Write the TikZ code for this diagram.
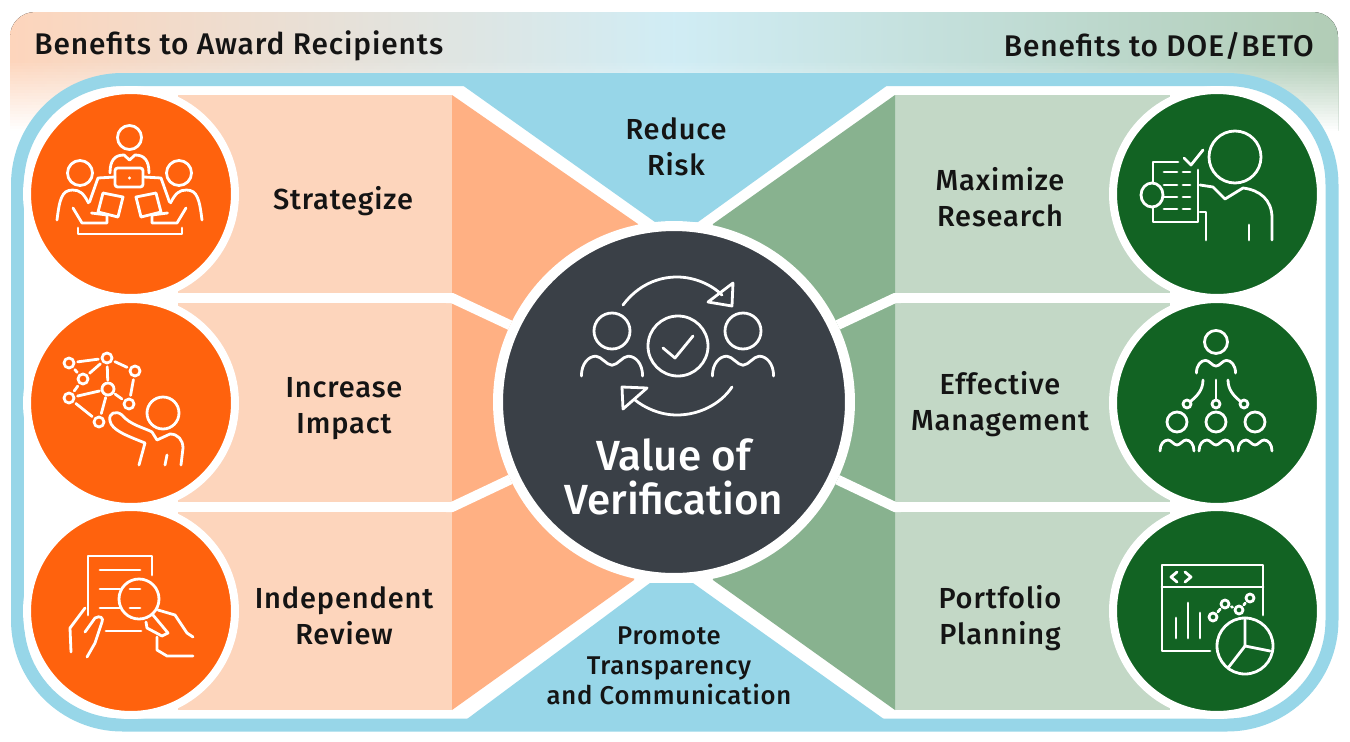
\documentclass[tikz,border=0pt]{standalone}
\usepackage{fontspec}
\setmainfont{Fira Sans}[BoldFont={Fira Sans Medium}, LetterSpace=3]
\newfontfamily\corefont{Fira Sans Medium}

\definecolor{awardorange}{HTML}{FF620D}
\definecolor{awardpeach}{HTML}{FDD5BC}
\definecolor{awardmid}{HTML}{FFB083}
\definecolor{framesky}{HTML}{97D6E8}
\definecolor{coreslate}{HTML}{3A4047}
\definecolor{doegreen}{HTML}{126323}
\definecolor{doemist}{HTML}{C3D8C6}
\definecolor{doemid}{HTML}{88B28F}
\definecolor{inkblack}{HTML}{141414}

\tikzset{
    iconline/.style={draw=white, line width=0.056cm, line cap=round, line join=round},
    rowlabel/.style={font=\fontsize{16.5}{20.4}\selectfont\bfseries, text=inkblack, align=center, inner sep=0pt},
    iconbase/.style={circle, draw=white, line width=0.16cm, minimum size=4.16cm, inner sep=0pt},
    headshade/.style={left color=awardpeach!#1!white, right color=doemist!90!doegreen!#1!white, middle color=framesky!45!white!#1!white},
    bust/.pic={
        \draw[iconline] (0,#1) circle (10);
        \draw[iconline] (-17,0) .. controls (-17,-7) and (-13,-11) .. (-9,-11) .. controls (-6,-11) and (-3,-6) .. (0,-6) .. controls (3,-6) and (6,-11) .. (9,-11) .. controls (13,-11) and (17,-7) .. (17,0);
    }
}

\begin{document}
\begin{tikzpicture}[x=0.02cm,y=-0.02cm]
    \useasboundingbox (0,0) rectangle (1350,741);

    % header band and frame
    \fill[headshade=100] (10,130) [rounded corners=0.5cm] -- (10,12) -- (1338,12) [sharp corners] -- (1338,130) -- cycle;
    \foreach \yy in {60,63,...,129} {
        \pgfmathtruncatemacro{\pct}{100*(130-\yy)/70}
        \fill[headshade=\pct] (10,\yy) rectangle (1338,130);
    }
    \draw[framesky, line width=0.26cm, fill=white, rounded corners=2.1cm] (17.5,79.5) rectangle (1332,725);
    \fill[framesky] (458,82) -- (892,82) -- (698,222) -- (655,222) -- cycle;
    \fill[framesky] (463,722) -- (888,722) -- (693,583) -- (650,583) -- cycle;

    % panels
    \foreach \ytop/\ybot in {95/293,303/502,512/710} {
        \fill[awardpeach] (178,\ytop) rectangle (452,\ybot);
        \fill[doemist] (895,\ytop) rectangle (1170,\ybot);
    }
    \fill[awardmid] (452,95) -- (638,224) -- (674,402) -- (634,580) -- (452,710) -- cycle;
    \fill[doemid] (895,95) -- (713,224) -- (674,402) -- (713,580) -- (895,710) -- cycle;

    \node[circle, draw=white, line width=0.2cm, minimum size=7.04cm, inner sep=0pt, fill=coreslate] (core) at (674,402) {};
    \coordinate (sepNW) at (446,298);
    \coordinate (sepSW) at (446,507);
    \coordinate (sepNE) at (901,298);
    \coordinate (sepSE) at (901,507);
    \draw[white, line width=0.2cm] (sepNW) -- (452,298) -- (core);
    \draw[white, line width=0.2cm] (sepSW) -- (452,507) -- (core);
    \draw[white, line width=0.2cm] (sepNE) -- (895,298) -- (core);
    \draw[white, line width=0.2cm] (sepSE) -- (895,507) -- (core);

    % discs
    \node[iconbase, fill=awardorange] (strategize) at (131,194) {};
    \node[iconbase, fill=awardorange] (impact) at (131,403) {};
    \node[iconbase, fill=awardorange] (review) at (131,611) {};
    \node[iconbase, fill=doegreen] (research) at (1217,194) {};
    \node[iconbase, fill=doegreen] (management) at (1217,403) {};
    \node[iconbase, fill=doegreen] (portfolio) at (1217,611) {};

    % texts
    \node[rowlabel, font=\fontsize{17}{20}\selectfont\bfseries, anchor=west] (headL) at (34,46) {Benefits to Award Recipients};
    \node[rowlabel, font=\fontsize{17}{20}\selectfont\bfseries, anchor=east] (headR) at (1314,46) {Benefits to DOE/BETO};
    \node[rowlabel] (lblStrategize) at (343,201) {Strategize};
    \node[rowlabel] (lblImpact) at (344,409) {Increase\\Impact};
    \node[rowlabel] (lblReview) at (344,616) {Independent\\Review};
    \node[rowlabel] (lblResearch) at (1000,197) {Maximize\\Research};
    \node[rowlabel] (lblManagement) at (1000,404) {Effective\\Management};
    \node[rowlabel] (lblPortfolio) at (1000,618) {Portfolio\\Planning};
    \node[rowlabel] (lblRisk) at (676,147) {Reduce\\Risk};
    \node[rowlabel, font=\fontsize{14.6}{17}\selectfont\bfseries] (lblPromote) at (669,666) {Promote\\Transparency\\and Communication};
    \node[rowlabel, font=\fontsize{24}{25}\selectfont\corefont, text=white] (lblCore) at (674,477) {Value of\\Verification};

    % strategize icon
    \draw[iconline] (129.5,137.5) circle (12);
    \draw[iconline] (110,173) .. controls (110,160) and (115,155) .. (124,155) -- (129.5,160) -- (135,155) .. controls (144,155) and (149,160) .. (149,173);
    \draw[iconline, rounded corners=1.5] (115,168) rectangle (143,187);
    \fill[white] (129.5,178) circle (1.6);
    \draw[iconline] (78,228) -- (78,234) -- (182,234) -- (182,228);
    \foreach \sx in {1,-1} {
        \begin{scope}[shift={(129.5,0)}, xscale=\sx]
            \draw[iconline] (-49.5,173) circle (12.5);
            \draw[iconline] (-72.5,220) .. controls (-70,200) and (-68,190) .. (-57,190) .. controls (-50,190) and (-46,193) .. (-41,203);
            \draw[iconline] (-56.5,208) -- (-47.5,223) -- (-22.5,223) -- (-22.5,215) -- (-38,213);
            \draw[iconline] (-14.5,177) -- (-31.5,178) -- (-40,202);
            \draw[iconline] (-26.5,193) -- (-6.5,197) -- (-11.5,217) -- (-31.5,212) -- cycle;
        \end{scope}
    }

    % impact icon
    \foreach \nm/\nx/\ny/\nr in {a/69/363/5,b/107/358/5,c/135/371/5,d/83/379/5,e/108/389/6,f/69/398/5,g/129/404/5,h/99/422/5}
        \draw[iconline] (\nx,\ny) circle (\nr) coordinate (pt\nm);
    \foreach \p/\q in {a/b,b/c,a/d,b/d,d/f,b/e,c/g,f/e,e/h,f/h,e/g}
        \draw[iconline, shorten >=5, shorten <=5] (pt\p) -- (pt\q);
    \draw[iconline] (163,413) circle (16);
    \draw[iconline] (139,465) -- (145,443) .. controls (125,435) and (112,430) .. (110,421) .. controls (108,413) and (116,410) .. (122,415) .. controls (130,425) and (145,428) .. (152,432) -- (157,440) -- (170,434) .. controls (178,434) and (183,440) .. (183,448) -- (181,465);
    \draw[iconline] (167,455) -- (165,465);

    % review icon
    \draw[iconline] (88,615) -- (88,556) -- (152,556) -- (152,575);
    \foreach \ly/\lx/\lz in {570/100/140,589/100/120,589/130/140,608/100/120,608/130/140,631/106/141}
        \draw[iconline] (\lx,\ly) -- (\lz,\ly);
    \draw[iconline] (139,599) circle (20);
    \draw[iconline] (153,615) -- (168,633) -- (162,636) -- (147,628) -- (146,622);
    \draw[iconline] (85,608) -- (70,628) -- (71,652);
    \draw[iconline] (85,632) -- (95,618) .. controls (100,615) and (104,618) .. (102,622) -- (95,643) -- (87,657);
    \draw[iconline] (158,610) -- (175,615) -- (187,633) -- (193,637);
    \draw[iconline] (193,656) -- (167,656) -- (157,650) -- (157,637);

    % research icon
    \draw[iconline] (1235,157) circle (26);
    \draw[iconline] (1200,185) -- (1213,187) -- (1225,199) -- (1243,188) .. controls (1260,190) and (1272,200) .. (1272,218) -- (1272,240);
    \draw[iconline] (1249,225) -- (1249,240);
    \draw[iconline] (1200,212) -- (1206,212) -- (1206,240);
    \draw[iconline] (1178,162) -- (1153,162) -- (1153,182);
    \draw[iconline] (1153,207) -- (1153,222) -- (1198,222) -- (1198,170);
    \draw[iconline] (1184,158) -- (1191,165) -- (1203,150);
    \draw[iconline] (1152,195) ellipse (11 and 12);
    \foreach \ry in {172,185,197,209} {
        \draw[iconline] (1164,\ry) -- (1177,\ry);
        \draw[iconline] (1183,\ry) -- (1190,\ry);
    }

    % management icon
    \pic[scale=1.15] at (1216,373) {bust=-27};
    \draw[iconline] (1216,380) -- (1216,399);
    \draw[iconline] (1203,380) .. controls (1203,390) and (1197,396) .. (1191,401);
    \draw[iconline] (1228,380) .. controls (1228,390) and (1234,396) .. (1240,401);
    \foreach \bx in {1187,1216,1244}
        \draw[iconline] (\bx,404) circle (4);
    \foreach \bx in {1177,1216,1255}
        \pic at (\bx,451) {bust=-29};

    % portfolio icon
    \draw[iconline] (1210,651) -- (1162,651) -- (1162,565) -- (1263,565) -- (1263,615);
    \draw[iconline] (1162,587) -- (1263,587);
    \draw[iconline] (1177,572) -- (1171,577) -- (1177,582);
    \draw[iconline] (1185,572) -- (1191,577) -- (1185,582);
    \draw[iconline] (1176,618) -- (1176,638);
    \draw[iconline] (1188,603) -- (1188,638);
    \draw[iconline] (1200,613) -- (1200,638);
    \foreach \nm/\nx/\ny in {p/1213/617,q/1225/604,r/1239/610,s/1250/598}
        \draw[iconline] (\nx,\ny) circle (4) coordinate (pt\nm);
    \foreach \p/\q in {p/q,q/r,r/s}
        \draw[iconline, shorten >=4, shorten <=4] (pt\p) -- (pt\q);
    \draw[iconline] (1245,646) circle (28);
    \draw[iconline] (1245,618) -- (1245,646) -- (1270,651);
    \draw[iconline] (1245,646) -- (1228,668);

    % core icon
    \draw[iconline] (678,346) circle (30);
    \draw[iconline] (663,348) -- (675,358) -- (693,336);
    \pic[scale=1.8] at (612,376) {bust=-25};
    \pic[scale=1.8] at (743,376) {bust=-25};
    \draw[iconline] (623,305) .. controls (638,285) and (658,277) .. (677,277) .. controls (695,277) and (712,285) .. (722,295);
    \draw[iconline] (733,283) -- (732,306) -- (708,302) -- cycle;
    \draw[iconline] (732,387) .. controls (720,405) and (698,415) .. (677,415) .. controls (660,415) and (645,408) .. (635,400);
    \draw[iconline] (622,387) -- (647,388) -- (623,409) -- cycle;
\end{tikzpicture}
\end{document}
